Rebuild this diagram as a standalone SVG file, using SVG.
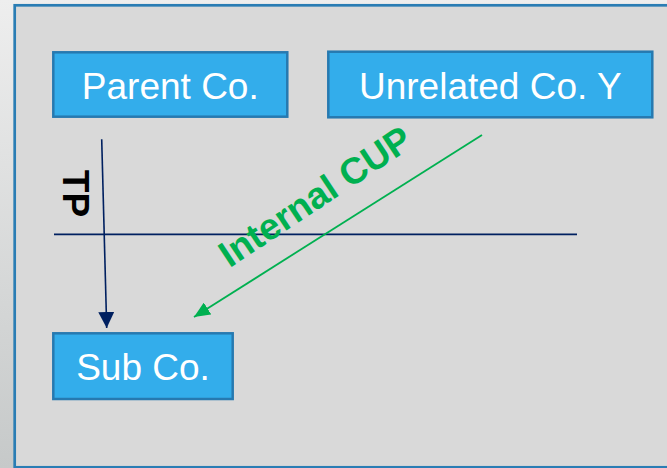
<svg xmlns="http://www.w3.org/2000/svg" width="667" height="468" viewBox="0 0 667 468">
  <defs>
    <linearGradient id="bgGrad" x1="0" y1="0" x2="0" y2="1">
      <stop offset="0" stop-color="#eeeeee"/>
      <stop offset="1" stop-color="#c6c9c9"/>
    </linearGradient>
    <marker id="headNavy" viewBox="0 0 16 16" refX="16" refY="8" markerWidth="16" markerHeight="16" markerUnits="userSpaceOnUse" orient="auto">
      <path d="M0,0 L16,8 L0,16 Z" fill="#002060"/>
    </marker>
    <marker id="headGreen" viewBox="0 0 16 14" refX="16" refY="7" markerWidth="16" markerHeight="14" markerUnits="userSpaceOnUse" orient="auto">
      <path d="M0,0 L16,7 L0,14 Z" fill="#00b050"/>
    </marker>
  </defs>
  <style>
    .box { fill: #33adeb; stroke: #2679b0; stroke-width: 2.5; }
    .label { font-family: "Liberation Sans", Arial, sans-serif; font-size: 37px; fill: #ffffff; text-anchor: middle; }
    .bold { font-family: "Liberation Sans", Arial, sans-serif; font-weight: bold; }
  </style>

  <!-- page background and frame -->
  <rect x="0" y="0" width="667" height="468" fill="url(#bgGrad)"/>
  <rect x="14.7" y="5.3" width="670" height="462" fill="#d9d9d9" stroke="#2a7db4" stroke-width="2.7"/>

  <!-- connectors -->
  <g id="connectors">
    <line x1="54" y1="234.3" x2="577" y2="234.3" stroke="#002060" stroke-width="1.8"/>
    <line x1="101.7" y1="139.3" x2="106.7" y2="328" stroke="#002060" stroke-width="1.6" marker-end="url(#headNavy)"/>
    <line x1="482" y1="135" x2="194" y2="317" stroke="#00b050" stroke-width="1.8" marker-end="url(#headGreen)"/>
    <text class="bold" x="63" y="193.5" font-size="37" fill="#000000" text-anchor="middle" transform="rotate(90 63 193.5)">TP</text>
    <text class="bold" x="322" y="207" font-size="37" fill="#00b050" text-anchor="middle" transform="rotate(-33.5 322 207)">Internal CUP</text>
  </g>

  <g id="parent">
    <rect class="box" x="53.3" y="52.3" width="234" height="64.4"/>
    <text class="label" x="170.3" y="99">Parent Co.</text>
  </g>

  <g id="unrelated">
    <rect class="box" x="328.3" y="51.7" width="324" height="65.6"/>
    <text class="label" x="490.3" y="99">Unrelated Co. Y</text>
  </g>

  <g id="sub">
    <rect class="box" x="53.3" y="333.3" width="179.4" height="65.7"/>
    <text class="label" x="143" y="380">Sub Co.</text>
  </g>
</svg>
